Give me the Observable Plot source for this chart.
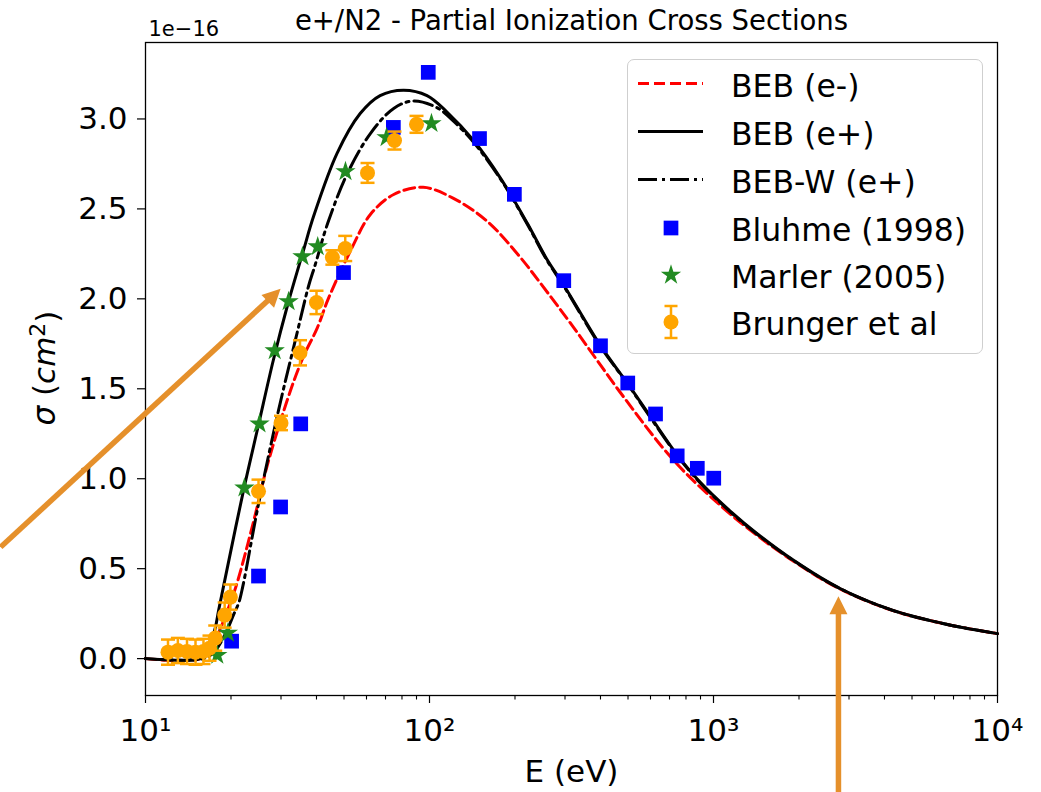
<!DOCTYPE html>
<html>
<head>
<meta charset="utf-8">
<script src="https://cdn.jsdelivr.net/npm/d3@7"></script>
<script src="https://cdn.jsdelivr.net/npm/@observablehq/plot@0.6"></script>
<style>
  html, body { margin: 0; padding: 0; background: #fff; }
  #wrap { position: relative; width: 1041px; height: 792px; font-family: "DejaVu Sans", sans-serif; }
  #legend { position: absolute; left: 627px; top: 59px; width: 356px; height: 295px; box-sizing: border-box;
            border: 1.3px solid #cfcfcf; border-radius: 7px; background: rgba(255,255,255,0.85); }
</style>
</head>
<body>
<div id="wrap"><div id="legend"></div></div>
<script>
// ---------------- data ----------------
// BEB (e-) theory curve
const bebElectronE = [10, 15.6, 17, 18.5, 20, 21.1, 24, 26.9, 32.4, 36, 40.3, 44, 52.8, 62, 74.8, 95, 121, 160, 209, 245, 322, 485, 726, 1060, 1410, 1920, 2790, 4290, 6660, 10000];
const bebElectronSigma = [0, 0, 0.06, 0.18, 0.32, 0.43, 0.76, 1.08, 1.49, 1.68, 1.84, 2.0, 2.27, 2.47, 2.58, 2.62, 2.56, 2.43, 2.23, 2.09, 1.84, 1.45, 1.10, 0.85, 0.69, 0.54, 0.387, 0.267, 0.19, 0.139];
// BEB (e+) theory curve
const bebPositronE = [10, 15.6, 16.5, 17.6, 18.1, 19.1, 22.1, 25, 28.2, 31.7, 36, 39.1, 47.3, 57, 67, 81, 98, 115, 143, 178, 221, 259, 296, 400, 498, 600, 747, 898, 1164, 1410, 1920, 2790, 4290, 6660, 10000];
const bebPositronSigma = [0, 0, 0.04, 0.17, 0.27, 0.45, 0.93, 1.30, 1.66, 1.97, 2.27, 2.46, 2.81, 3.03, 3.13, 3.16, 3.13, 3.04, 2.88, 2.67, 2.42, 2.22, 2.08, 1.74, 1.53, 1.345, 1.13, 0.98, 0.81, 0.70, 0.545, 0.39, 0.268, 0.19, 0.139];
// BEB-W (e+) theory curve
const bebwE = [10, 16, 17.5, 19, 20.5, 21.3, 22, 25, 29.4, 33.7, 37.5, 39.6, 43.8, 51.5, 62, 75, 88, 107, 121, 143, 178, 221, 259, 296, 400, 498, 600, 747, 898, 1164, 1410, 1920, 2790, 4290, 6660, 10000];
const bebwSigma = [0, 0, 0.04, 0.13, 0.25, 0.31, 0.40, 0.86, 1.38, 1.77, 2.07, 2.19, 2.42, 2.70, 2.92, 3.06, 3.10, 3.06, 2.99, 2.87, 2.665, 2.415, 2.215, 2.075, 1.735, 1.527, 1.34, 1.126, 0.977, 0.806, 0.697, 0.543, 0.389, 0.267, 0.19, 0.139];
// Bluhme (1998)
const bluhmeE = [20.1, 25, 29.9, 35.2, 49.8, 74.6, 99, 150, 199, 297, 400, 499, 625, 745, 877, 1002];
const bluhmeSigma = [0.097, 0.459, 0.843, 1.305, 2.146, 2.953, 3.259, 2.891, 2.581, 2.101, 1.739, 1.532, 1.36, 1.127, 1.058, 1.003];
// Marler (2005)
const marlerE = [17.9, 19.5, 22.3, 25.2, 28.5, 31.9, 35.7, 40.4, 50.6, 70.6, 101.6];
const marlerSigma = [0.019, 0.142, 0.949, 1.305, 1.712, 1.985, 2.235, 2.29, 2.708, 2.897, 2.975];
// Brunger et al
const brungerE = [12, 13, 14, 15, 16, 16.8, 17.6, 19.0, 19.9, 25, 30, 35, 40, 45.5, 50.5, 60.5, 75.3, 90];
const brungerSigma = [0.036, 0.045, 0.04, 0.036, 0.04, 0.058, 0.114, 0.242, 0.342, 0.93, 1.31, 1.70, 1.98, 2.23, 2.28, 2.70, 2.88, 2.97];
const brungerErr = [0.07, 0.07, 0.07, 0.07, 0.07, 0.07, 0.07, 0.07, 0.07, 0.065, 0.04, 0.07, 0.065, 0.04, 0.07, 0.055, 0.05, 0.047];
// ticks
const xTicks = [10, 100, 1000, 10000];
const xTickLabels = ["10\u00B9", "10\u00B2", "10\u00B3", "10\u2074"];
const xMinorTicks = [20,30,40,50,60,70,80,90,200,300,400,500,600,700,800,900,2000,3000,4000,5000,6000,7000,8000,9000];
const yTicks = [0, 0.5, 1.0, 1.5, 2.0, 2.5, 3.0];
// annotation arrows (data units): tail -> tip
const arrowTailE = [3.09, 2754];
const arrowTailSigma = [0.62, -0.744];
const arrowTipE = [29.9, 2754];
const arrowTipSigma = [2.056, 0.347];
const arrowAngle = [45.5, 0];

const titleText = "e+/N2 - Partial Ionization Cross Sections";
const offsetText = "1e\u221216";
const xLabelText = "E (eV)";

// ---------------- tables ----------------
const rows = (E, S) => E.map((e, i) => ({E: e, s: S[i]}));
const bebElectron = rows(bebElectronE, bebElectronSigma);
const bebPositron = rows(bebPositronE, bebPositronSigma);
const bebw = rows(bebwE, bebwSigma);
const bluhme = rows(bluhmeE, bluhmeSigma);
const marler = rows(marlerE, marlerSigma);
const brunger = brungerE.map((e, i) => ({E: e, s: brungerSigma[i], lo: brungerSigma[i] - brungerErr[i], hi: brungerSigma[i] + brungerErr[i]}));
const arrows = arrowTailE.map((e, i) => ({x1: e, y1: arrowTailSigma[i], x2: arrowTipE[i], y2: arrowTipSigma[i], a: arrowAngle[i]}));

const ORANGE = "#FFA500";
const ARROW = "#E5902B";
const capSymbol = {draw(ctx, size) { const w = Math.sqrt(size / Math.PI); ctx.moveTo(-w, 0); ctx.lineTo(w, 0); }};
const headSymbol = {draw(ctx, size) { const s = Math.sqrt(size / Math.PI); ctx.moveTo(0, 0); ctx.lineTo(-0.9 * s, 1.8 * s); ctx.lineTo(0.9 * s, 1.8 * s); ctx.closePath(); }};

const FS = 31;
const CURVE = "catmull-rom";
const chart = Plot.plot({
  width: 1041, height: 792,
  marginLeft: 145, marginRight: 44, marginTop: 42, marginBottom: 97,
  style: {fontFamily: "DejaVu Sans", fontSize: FS + "px", color: "black", background: "transparent", overflow: "visible"},
  x: {type: "log", domain: [10, 10000]},
  y: {domain: [-0.205, 3.425]},
  marks: [
    Plot.axisX(xMinorTicks, {tickSize: 4.5, strokeWidth: 1.1, tickFormat: () => "", label: null}),
    Plot.axisX(xTicks, {tickSize: 8, strokeWidth: 1.2, tickPadding: 15.5, fontSize: FS, tickFormat: d => xTickLabels[xTicks.indexOf(d)], label: null}),
    Plot.axisY(yTicks, {tickSize: 8, strokeWidth: 1.2, tickPadding: 10, fontSize: FS, tickFormat: d3.format(".1f"), label: null}),
    Plot.line(bebElectron, {x: "E", y: "s", stroke: "red", strokeWidth: 3, strokeDasharray: "11,5", curve: CURVE}),
    Plot.line(bebPositron, {x: "E", y: "s", stroke: "black", strokeWidth: 3, curve: CURVE}),
    Plot.line(bebw, {x: "E", y: "s", stroke: "black", strokeWidth: 3, strokeDasharray: "19,5,3,5", curve: CURVE}),
    Plot.dot(bluhme, {x: "E", y: "s", symbol: "square", r: 8.3, fill: "blue", stroke: "none"}),
    Plot.dot(marler, {x: "E", y: "s", symbol: "star", r: 6.4, fill: "forestgreen", stroke: "none"}),
    Plot.ruleX(brunger, {x: "E", y1: "lo", y2: "hi", stroke: ORANGE, strokeWidth: 2.5}),
    Plot.dot(brunger, {x: "E", y: "lo", symbol: capSymbol, r: 7, fill: "none", stroke: ORANGE, strokeWidth: 2.5}),
    Plot.dot(brunger, {x: "E", y: "hi", symbol: capSymbol, r: 7, fill: "none", stroke: ORANGE, strokeWidth: 2.5}),
    Plot.dot(brunger, {x: "E", y: "s", symbol: "circle", r: 7.5, fill: ORANGE, stroke: "none"}),
    Plot.frame({stroke: "black", strokeWidth: 1.3}),
    Plot.text([titleText], {frameAnchor: "top", lineAnchor: "bottom", dy: -13, fontSize: 27.5, text: d => d}),
    Plot.text([offsetText], {frameAnchor: "top-left", textAnchor: "start", lineAnchor: "bottom", dx: 3, dy: -7, fontSize: 21, text: d => d}),
    Plot.text([xLabelText], {frameAnchor: "bottom", lineAnchor: "bottom", dy: 86, fontSize: FS, text: d => d}),
    Plot.arrow(arrows, {x1: "x1", y1: "y1", x2: "x2", y2: "y2", stroke: ARROW, strokeWidth: 5.5, headLength: 0, insetEnd: 15, strokeLinecap: "butt"}),
    Plot.dot(arrows, {x: "x2", y: "y2", symbol: headSymbol, r: 10, rotate: "a", fill: ARROW, stroke: "none"})
  ]
});
chart.style.position = "absolute";
chart.style.left = "0px";
chart.style.top = "0px";
const wrap = document.getElementById("wrap");
wrap.insertBefore(chart, wrap.firstChild);

// y label with math styling
const svgSel = d3.select(chart);
const yl = svgSel.append("text")
  .attr("transform", "translate(54.5,368) rotate(-90)")
  .attr("text-anchor", "middle")
  .attr("font-family", "DejaVu Sans")
  .attr("font-size", FS)
  .attr("fill", "black");
yl.append("tspan").attr("font-style", "italic").text("\u03C3");
yl.append("tspan").text(" (");
yl.append("tspan").attr("font-style", "italic").text("cm");
yl.append("tspan").attr("dy", "-0.42em").attr("font-size", Math.round(FS * 0.7)).text("2");
yl.append("tspan").attr("dy", "0.42em").text(")");

// legend
const legendItems = [
  {label: "BEB (e-)", kind: "line", color: "red", dash: "11,5"},
  {label: "BEB (e+)", kind: "line", color: "black", dash: null},
  {label: "BEB-W (e+)", kind: "line", color: "black", dash: "19,5,3,5"},
  {label: "Bluhme (1998)", kind: "square", color: "blue"},
  {label: "Marler (2005)", kind: "star", color: "forestgreen"},
  {label: "Brunger et al", kind: "err", color: ORANGE}
];
const lg = d3.select("#legend").append("svg").attr("width", 356).attr("height", 295)
  .style("position", "absolute").style("left", "-1px").style("top", "-1px").style("overflow", "visible");
const rowY = [24.5, 72.5, 120.5, 169, 216, 263];
legendItems.forEach((it, i) => {
  const y = rowY[i];
  const g = lg.append("g");
  if (it.kind === "line") {
    g.append("line").attr("x1", 11).attr("x2", 76).attr("y1", y).attr("y2", y)
      .attr("stroke", it.color).attr("stroke-width", 3).attr("stroke-dasharray", it.dash);
  } else if (it.kind === "square") {
    g.append("path").attr("d", d3.symbol(d3.symbolSquare, Math.PI * 8.3 * 8.3)()).attr("transform", `translate(44,${y})`).attr("fill", it.color);
  } else if (it.kind === "star") {
    g.append("path").attr("d", d3.symbol(d3.symbolStar, Math.PI * 6.4 * 6.4)()).attr("transform", `translate(44,${y})`).attr("fill", it.color);
  } else {
    g.append("line").attr("x1", 44).attr("x2", 44).attr("y1", y - 16).attr("y2", y + 16).attr("stroke", it.color).attr("stroke-width", 2.5);
    g.append("line").attr("x1", 37.5).attr("x2", 50.5).attr("y1", y - 16).attr("y2", y - 16).attr("stroke", it.color).attr("stroke-width", 2.5);
    g.append("line").attr("x1", 37.5).attr("x2", 50.5).attr("y1", y + 16).attr("y2", y + 16).attr("stroke", it.color).attr("stroke-width", 2.5);
    g.append("circle").attr("cx", 44).attr("cy", y).attr("r", 7.5).attr("fill", it.color);
  }
  g.append("text").attr("x", 104).attr("y", y + 2).attr("dominant-baseline", "central")
    .attr("font-family", "DejaVu Sans").attr("font-size", 31.5).attr("fill", "black").text(it.label);
});
</script>
</body>
</html>
